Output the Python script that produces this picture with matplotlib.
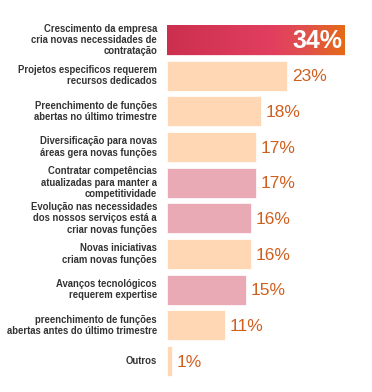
import matplotlib.pyplot as plt
import numpy as np
from matplotlib.colors import LinearSegmentedColormap

plt.rcParams['font.family'] = ['Liberation Sans', 'DejaVu Sans']

labels = [
    'Crescimento da empresa\ncria novas necessidades de\ncontratação',
    'Projetos especificos requerem\nrecursos dedicados',
    'Preenchimento de funções\nabertas no último trimestre',
    'Diversificação para novas\náreas gera novas funções',
    'Contratar competências\natualizadas para manter a\ncompetitividade',
    'Evolução nas necessidades\ndos nossos serviços está a\ncriar novas funções',
    'Novas iniciativas\ncriam novas funções',
    'Avanços tecnológicos\nrequerem expertise',
    'preenchimento de funções\nabertas antes do último trimestre',
    'Outros',
]
valores = [34, 23, 18, 17, 17, 16, 16, 15, 11, 1]
grupo = ['top', 'peach', 'peach', 'peach', 'pink', 'pink', 'peach', 'pink', 'peach', 'peach']

cores = {'top': '#D8385A', 'peach': '#FFD7B5', 'pink': '#E9AAB6'}
cor_texto = '#CF5F1E'

fig = plt.figure(figsize=(3.72, 3.92), dpi=100)
W, H = 372, 392
x0, x1 = 167, 345
ax = fig.add_axes([x0 / W, 1 - 379 / H, (x1 - x0) / W, (379 - 22) / H])

y = np.arange(len(valores))
altura = 0.84
ax.barh(y, valores, height=altura,
        color=[cores[g] for g in grupo], edgecolor='white', linewidth=0.5)

# gradiente na primeira barra
cmap = LinearSegmentedColormap.from_list(
    'grad', [(0, '#CC2F4E'), (0.6, '#E23F5F'), (0.78, '#E0504C'), (1, '#E56A17')])
grad = np.linspace(0, 1, 256).reshape(1, -1)
ax.imshow(grad, cmap=cmap, aspect='auto',
          extent=[0, valores[0], y[0] + altura / 2, y[0] - altura / 2], zorder=3)

ax.set_xlim(0, 34)
ax.set_ylim(len(valores) - 0.5, -0.5)
ax.axis('off')

for i, (v, lab) in enumerate(zip(valores, labels)):
    ax.text(-1.9, i, lab, ha='right', va='center', fontsize=6.85,
            fontweight='bold', color='#333333', linespacing=1.15)
    if i == 0:
        ax.text(v - 0.4, i + 0.03, f'{v}%', ha='right', va='center',
                fontsize=18, fontweight='bold', color='white', zorder=4)
    else:
        ax.text(v + 0.9, i + 0.03, f'{v}%', ha='left', va='center',
                fontsize=12.5, color=cor_texto)

fig.savefig('out.png', dpi=100)
